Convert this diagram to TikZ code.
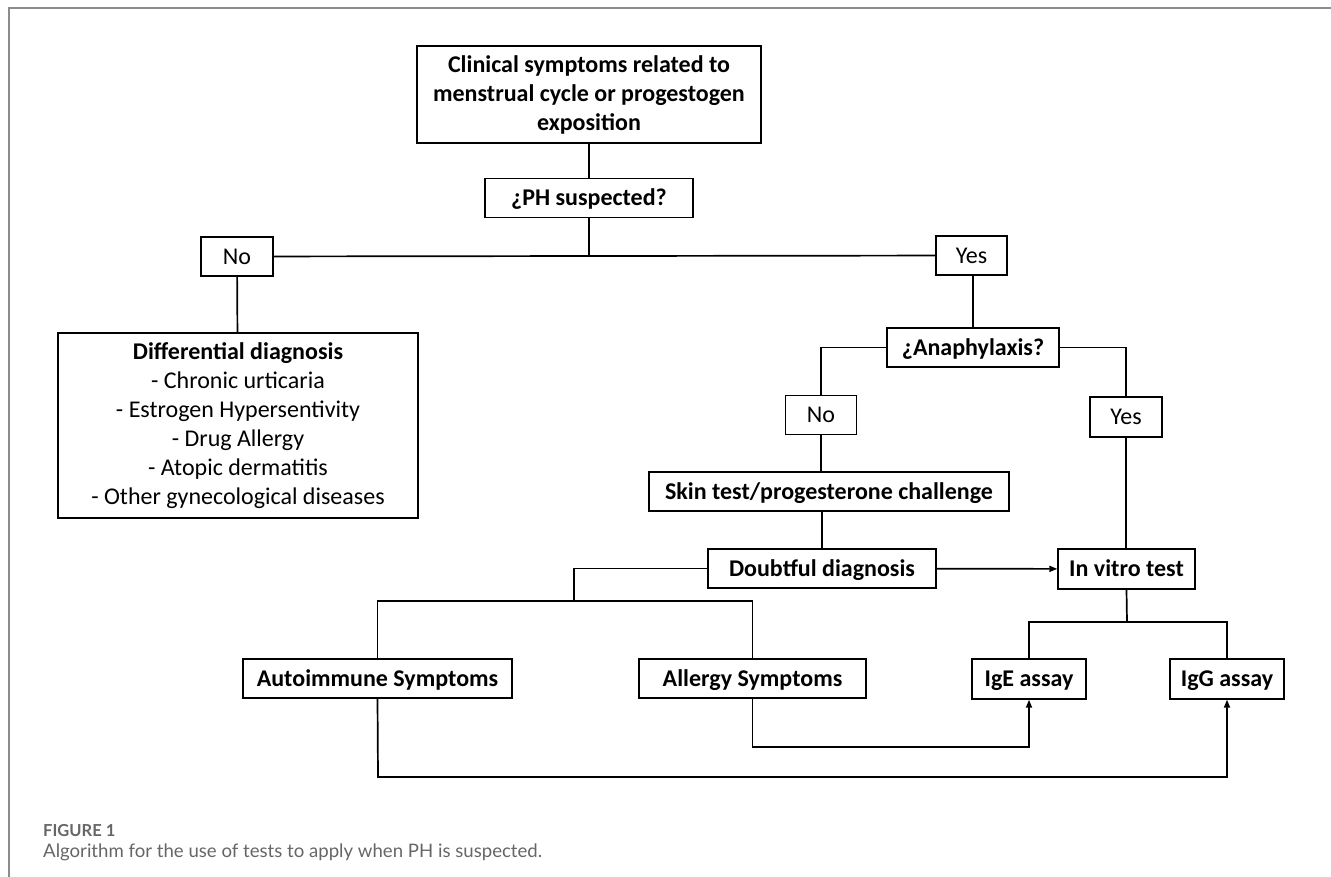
\documentclass[tikz,border=0pt]{standalone}
\usepackage{fontspec}
\setmainfont{Carlito}
\newfontfamily\capfont{Lato}
\usetikzlibrary{arrows.meta}

\begin{document}
\begin{tikzpicture}[
      x=1pt, y=-1pt,
      multibox/.style={draw, line width=1.4pt, inner sep=0pt, align=center,
        font=\fontsize{24}{29}\selectfont},
      box/.style={multibox, minimum height=39pt, text height=18pt, text depth=2.5pt},
      bbox/.style={box, font=\fontsize{24}{29}\selectfont\bfseries},
      link/.style={line width=1.7pt},
      >={Triangle[length=8pt,width=6pt]}
    ]
    \useasboundingbox (0,0) rectangle (1331,877);
    \draw[line width=1.3pt, black!45] (9,877) -- (9,8) -- (1331,8);

    \node[multibox, font=\fontsize{24}{29}\selectfont\bfseries, minimum width=344pt, minimum height=97pt]
      (clin) at (589,94.5)
      {Clinical symptoms related to\\menstrual cycle or progestogen\\exposition};
    \node[bbox, minimum width=208pt] (ph) at (589,198) {¿PH suspected?};
    \node[box, minimum width=72pt] (no1) at (237,256.5) {No};
    \node[box, minimum width=71pt] (yes1) at (971.5,255.5) {Yes};
    \node[multibox, minimum width=360pt, minimum height=185pt] (diff) at (238,425.5)
      {\textbf{Differential diagnosis}\\- Chronic urticaria\\- Estrogen Hypersentivity\\
       - Drug Allergy\\- Atopic dermatitis\\- Other gynecological diseases};
    \node[bbox, minimum width=172pt] (anaph) at (973,347.5) {¿Anaphylaxis?};
    \node[box, minimum width=71pt] (no2) at (821,415) {No};
    \node[box, minimum width=72pt, minimum height=40pt] (yes2) at (1126,417) {Yes};
    \node[bbox, minimum width=360pt] (skin) at (829,491.5) {Skin test/progesterone challenge};
    \node[bbox, minimum width=228pt] (doubt) at (822,568.5) {Doubtful diagnosis};
    \node[bbox, minimum width=137pt, minimum height=40pt] (vitro) at (1126.5,569) {In vitro test};
    \node[bbox, minimum width=269pt] (auto) at (377.5,678.5) {Autoimmune Symptoms};
    \node[bbox, minimum width=227pt] (allergy) at (752.5,678.5) {Allergy Symptoms};
    \node[bbox, minimum width=114pt, minimum height=40pt] (ige) at (1029,679) {IgE assay};
    \node[bbox, minimum width=114pt, minimum height=40pt] (igg) at (1227,679) {IgG assay};

    \coordinate (phsplit) at (589,256);
    \coordinate (dsplit) at (574,601);
    \coordinate (vsplit) at (1127,622);
    \coordinate (allow) at (752.5,747);
    \coordinate (autolow) at (378,777);

    \draw[link] (clin) -- (ph);
    \draw[link] (ph) -- (phsplit);
    \draw[link] (no1) -- (yes1);
    \draw[link] (no1) -- (diff);
    \draw[link] (yes1.south -| anaph.north) -- (anaph);
    \draw[link] (anaph.west) -| (no2.north);
    \draw[link] (anaph.east) -| (yes2.north);
    \draw[link] (no2.south) -- (no2.south |- skin.north);
    \draw[link] (doubt.north |- skin.south) -- (doubt.north);
    \draw[link] (yes2.south) -- (yes2.south |- vitro.north);
    \draw[link, ->] (doubt) -- (vitro);
    \draw[link] (doubt.west) -| (dsplit);
    \draw[link] (auto.north) |- (dsplit) -| (allergy.north);
    \draw[link] (vitro.south) -- (vsplit);
    \draw[link] (ige.north) |- (vsplit) -| (igg.north);
    \draw[link, ->] (allergy.south) -- (allow) -| (ige.south);
    \draw[link, ->] (auto.south) -- (autolow) -| (igg.south);

    \node[anchor=base west, inner sep=0pt, text=black!60, font=\capfont\fontsize{16.5}{20}\selectfont\bfseries]
      (fig) at (43,836) {FIGURE 1};
    \node[anchor=base west, inner sep=0pt, text=black!60, font=\capfont\fontsize{18.6}{24}\selectfont]
      (cap) at (43,857) {Algorithm for the use of tests to apply when PH is suspected.};
  \end{tikzpicture}
\end{document}
